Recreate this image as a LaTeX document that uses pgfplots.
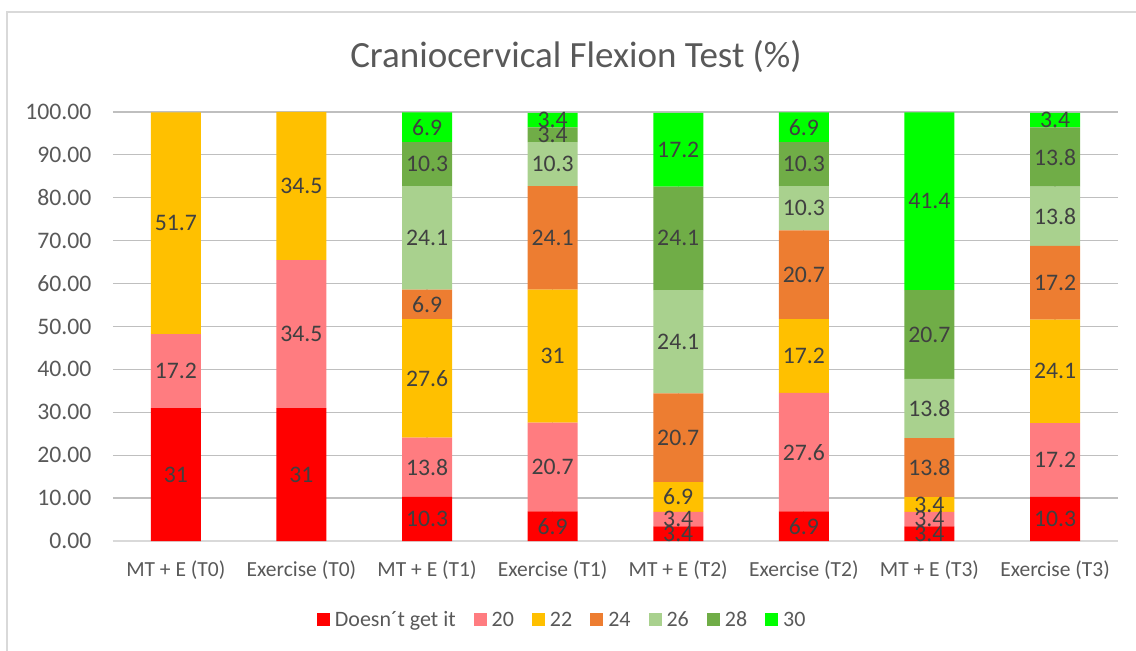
\documentclass[border=0pt]{standalone}
\usepackage{pgfplots}
\pgfplotsset{compat=1.18}
\usepackage{pgfplotstable}
\usepackage{fontspec}
\setmainfont{Carlito}
\definecolor{cRed}{HTML}{FF0000}
\definecolor{cPink}{HTML}{FF7C80}
\definecolor{cGold}{HTML}{FFC000}
\definecolor{cOrange}{HTML}{ED7D31}
\definecolor{cLGreen}{HTML}{A9D18E}
\definecolor{cGreen}{HTML}{70AD47}
\definecolor{cBGreen}{HTML}{00FF00}
\definecolor{txt}{HTML}{595959}
\definecolor{lab}{HTML}{404040}
\definecolor{grid}{HTML}{D9D9D9}
\pgfplotstableread{
x red p20 p22 p24 p26 p28 p30
0 31 17.2 51.7 0 0 0 0
1 31 34.5 34.5 0 0 0 0
2 10.3 13.8 27.6 6.9 24.1 10.3 6.9
3 6.9 20.7 31 24.1 10.3 3.4 3.4
4 3.4 3.4 6.9 20.7 24.1 24.1 17.2
5 6.9 27.6 17.2 20.7 10.3 10.3 6.9
6 3.4 3.4 3.4 13.8 13.8 20.7 41.4
7 10.3 17.2 24.1 17.2 13.8 13.8 3.4
}\data
% label positions: middle of each stacked segment
\pgfplotstablecreatecol[create col/expr={\thisrow{red}/2}]{m1}\data
\pgfplotstablecreatecol[create col/expr={\thisrow{red}+\thisrow{p20}/2}]{m2}\data
\pgfplotstablecreatecol[create col/expr={\thisrow{red}+\thisrow{p20}+\thisrow{p22}/2}]{m3}\data
\pgfplotstablecreatecol[create col/expr={\thisrow{red}+\thisrow{p20}+\thisrow{p22}+\thisrow{p24}/2}]{m4}\data
\pgfplotstablecreatecol[create col/expr={\thisrow{red}+\thisrow{p20}+\thisrow{p22}+\thisrow{p24}+\thisrow{p26}/2}]{m5}\data
\pgfplotstablecreatecol[create col/expr={\thisrow{red}+\thisrow{p20}+\thisrow{p22}+\thisrow{p24}+\thisrow{p26}+\thisrow{p28}/2}]{m6}\data
\pgfplotstablecreatecol[create col/expr={\thisrow{red}+\thisrow{p20}+\thisrow{p22}+\thisrow{p24}+\thisrow{p26}+\thisrow{p28}+\thisrow{p30}/2}]{m7}\data
\newcommand\fs{\fontsize{21.5}{26}\selectfont}
\newcommand\fl{\fontsize{23.7}{28}\selectfont}
\pgfplotsset{
  common/.style={at={(113pt,110pt)}, anchor=south west,
    scale only axis, width=1005pt, height=429pt,
    xmin=-0.5, xmax=7.5, ymin=0, ymax=100,
    /pgf/number format/assume math mode=true},
}
\begin{document}
\begin{tikzpicture}[font=\fs]
\useasboundingbox (0,0) rectangle (1136pt,651pt);
\draw[grid, line width=1.2pt] (7pt,-5pt) -- (7pt,639pt) -- (1145pt,639pt);
\node[text=txt, font=\fontsize{37}{44}\selectfont] at (576pt,594pt) {Craniocervical Flexion Test (\%)};
\begin{axis}[
  common,
  ybar stacked, bar width=50pt,
  ytick={0,10,...,100},
  xtick=data,
  xticklabels={MT + E (T0), Exercise (T0), MT + E (T1), Exercise (T1), MT + E (T2), Exercise (T2), MT + E (T3), Exercise (T3)},
  major tick length=0pt,
  axis x line*=bottom, axis y line*=left,
  x axis line style={grid, line width=1.2pt},
  y axis line style={draw=none},
  ymajorgrids, grid style={grid, line width=1.2pt},
  yticklabel style={text=txt, font=\fl, /pgf/number format/fixed, /pgf/number format/fixed zerofill, /pgf/number format/precision=2, xshift=-18pt},
  xticklabel style={text=txt, font=\fs, yshift=-16pt},
  ytick style={draw=none}, xtick style={draw=none},
  legend columns=-1,
  legend style={at={(axis description cs:0.447,-0.184)}, anchor=center, draw=none, fill=none, text=txt, font=\fontsize{22}{26}\selectfont,
    /tikz/every even column/.append style={column sep=16pt},
    /tikz/every odd column/.append style={column sep=3pt}},
  legend image code/.code={\fill[#1] (0pt,-6.5pt) rectangle (13pt,6.5pt);},
]
\addplot[fill=cRed, draw=none] table[x=x,y=red]{\data};
\addplot[fill=cPink, draw=none] table[x=x,y=p20]{\data};
\addplot[fill=cGold, draw=none] table[x=x,y=p22]{\data};
\addplot[fill=cOrange, draw=none] table[x=x,y=p24]{\data};
\addplot[fill=cLGreen, draw=none] table[x=x,y=p26]{\data};
\addplot[fill=cGreen, draw=none] table[x=x,y=p28]{\data};
\addplot[fill=cBGreen, draw=none] table[x=x,y=p30]{\data};
\legend{Doesn´t get it,20,22,24,26,28,30}
\end{axis}
\begin{axis}[
  common, hide axis, clip=false,
  nodes near coords={\pgfmathfloatifflags{\pgfplotspointmeta}{0}{}{\pgfmathprintnumber{\pgfplotspointmeta}}},
  every node near coord/.style={anchor=center, text=lab, font=\fl, inner sep=0pt},
  point meta=explicit,
]
\addplot[only marks, mark=none] table[x=x,y=m1,meta=red]{\data};
\addplot[only marks, mark=none] table[x=x,y=m2,meta=p20]{\data};
\addplot[only marks, mark=none] table[x=x,y=m3,meta=p22]{\data};
\addplot[only marks, mark=none] table[x=x,y=m4,meta=p24]{\data};
\addplot[only marks, mark=none] table[x=x,y=m5,meta=p26]{\data};
\addplot[only marks, mark=none] table[x=x,y=m6,meta=p28]{\data};
\addplot[only marks, mark=none] table[x=x,y=m7,meta=p30]{\data};
\end{axis}
\end{tikzpicture}
\end{document}
